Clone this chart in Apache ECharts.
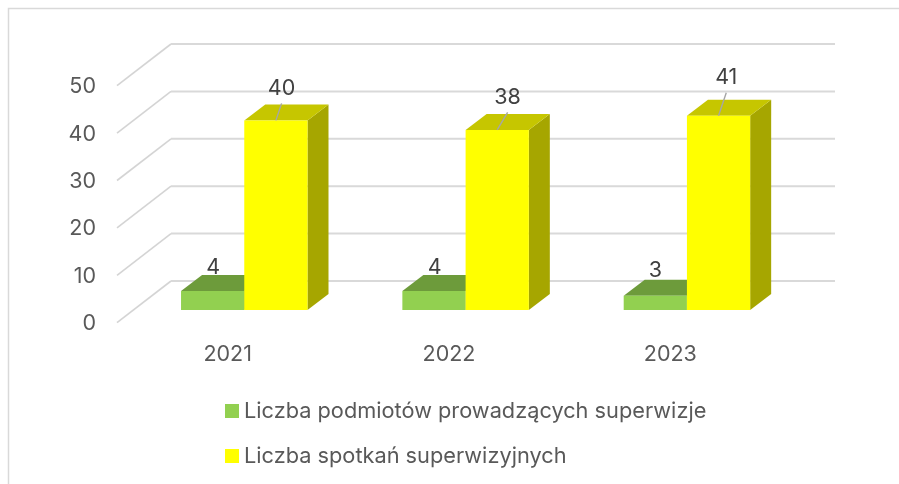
<!DOCTYPE html>
<html>
<head>
<meta charset="utf-8">
<style>
    html, body { margin: 0; background: #fff; }
    #chart { width: 899px; height: 484px; }
</style>
<script src="https://cdn.jsdelivr.net/npm/echarts@6/dist/echarts.min.js"></script>
</head>
<body>
<div id="chart"></div>
<script>
    const years = ['2021', '2022', '2023']
    const yTicks = [0, 10, 20, 30, 40, 50]
    const podmioty = [4, 4, 3]
    const spotkania = [40, 38, 41]
    const podmiotyName = 'Liczba podmiotów prowadzących superwizje'
    const spotkaniaName = 'Liczba spotkań superwizyjnych'

    // the axes are the front edge of the floor, bars stand a bit further in, walls at the back
    const barShift = [16.6, -12.7]
    const barDepth = [21, -16]
    const wallShift = [54, -41.7]
    const barShare = 0.2857
    const labelFont = 'Inter, sans-serif'
    const fontSize = 21.5
    const legendFontSize = 21.75

    // label nudge from the middle of the bar's top front edge
    const greenNudge = [[0.6, -24], [0.6, -24], [0, -25]]
    const yellowNudge = [[5.7, -32], [10.4, -32.5], [7.7, -38]]

    function bar3d(side, colors, nudges, leader) {
        return function (params, api) {
            const i = api.value(0)
            const band = api.size([1, 0])[0]
            const w = band * barShare
            const center = api.coord([i, 0])[0] + barShift[0]
            const x0 = center + (side < 0 ? -w : 0)
            const x1 = x0 + w
            const yBottom = api.coord([i, 0])[1] + barShift[1]
            const yTop = api.coord([i, api.value(1)])[1] + barShift[1]
            const dx = barDepth[0]
            const dy = barDepth[1]
            const nudge = nudges[params.dataIndex]
            const midX = (x0 + x1) / 2
            const children = [
                { type: 'polygon', shape: { points: [[x1, yBottom], [x1 + dx, yBottom + dy], [x1 + dx, yTop + dy], [x1, yTop]] }, style: { fill: colors[2] } },
                { type: 'polygon', shape: { points: [[x0, yTop], [x1, yTop], [x1 + dx, yTop + dy], [x0 + dx, yTop + dy]] }, style: { fill: colors[1] } },
                { type: 'rect', shape: { x: x0, y: yTop, width: w, height: yBottom - yTop }, style: { fill: colors[0] } }
            ]
            if (leader) {
                children.push({
                    type: 'line',
                    shape: { x1: midX, y1: yTop, x2: midX + nudge[0], y2: yTop + nudge[1] + 15 },
                    style: { stroke: '#a6a6a6', lineWidth: 1.4 }
                })
            }
            children.push({
                type: 'text',
                style: {
                    text: String(api.value(1)),
                    x: midX + nudge[0],
                    y: yTop + nudge[1],
                    align: 'center',
                    verticalAlign: 'middle',
                    fill: '#404040',
                    font: fontSize + 'px ' + labelFont
                }
            })
            return { type: 'group', children: children }
        }
    }

    function wallLine(params, api) {
        const rect = params.coordSys
        const y = api.coord([0, api.value(1)])[1]
        return {
            type: 'group',
            children: [
                { type: 'line', shape: { x1: rect.x, y1: y, x2: rect.x + wallShift[0], y2: y + wallShift[1] }, style: { stroke: '#d4d4d4', lineWidth: 1.6 } },
                { type: 'line', shape: { x1: rect.x + wallShift[0], y1: y + wallShift[1], x2: rect.x + rect.width + wallShift[0], y2: y + wallShift[1] }, style: { stroke: '#d9d9d9', lineWidth: 2 } }
            ]
        }
    }

    let option = {
        animation: false,
        backgroundColor: '#fff',
        textStyle: { fontFamily: labelFont },
        graphic: [{
            type: 'polyline',
            silent: true,
            shape: { points: [[8.5, 484], [8.5, 8.5], [899, 8.5]] },
            style: { stroke: '#d9d9d9', fill: null, lineWidth: 1.5 }
        }],
        grid: { left: 117, top: 85.7, width: 664, height: 237, outerBoundsMode: 'none', containLabel: false },
        legend: {
            orient: 'vertical',
            left: 220,
            top: 391,
            itemWidth: 14,
            itemHeight: 14,
            itemGap: 15,
            icon: 'rect',
            selectedMode: false,
            data: [podmiotyName, spotkaniaName],
            textStyle: { color: '#595959', fontSize: legendFontSize, lineHeight: 30, fontFamily: labelFont }
        },
        xAxis: {
            type: 'category',
            data: years,
            axisLine: { show: false },
            axisTick: { show: false },
            axisLabel: { color: '#595959', fontSize: fontSize, margin: 21, fontFamily: labelFont }
        },
        yAxis: {
            type: 'value',
            min: yTicks[0],
            max: yTicks[yTicks.length - 1],
            interval: 10,
            splitLine: { show: false },
            axisLine: { show: false },
            axisTick: { show: false },
            axisLabel: {
                margin: 21,
                formatter: '{tick|{value}}',
                rich: { tick: { color: '#595959', fontSize: fontSize, fontFamily: labelFont, padding: [2, 0, 0, 0] } }
            }
        },
        series: [
            {
                type: 'custom',
                silent: true,
                z: 1,
                renderItem: wallLine,
                encode: { x: 0, y: 1 },
                data: yTicks.map(_ => [0, _])
            },
            {
                name: podmiotyName,
                type: 'custom',
                z: 2,
                itemStyle: { color: '#92d050' },
                renderItem: bar3d(-1, ['#92d050', '#6d9b3b', '#6d9b3b'], greenNudge, false),
                encode: { x: 0, y: 1 },
                data: podmioty.map((_, i) => [i, _])
            },
            {
                name: spotkaniaName,
                type: 'custom',
                z: 3,
                itemStyle: { color: '#ffff00' },
                renderItem: bar3d(1, ['#ffff00', '#c6c600', '#a6a600'], yellowNudge, true),
                encode: { x: 0, y: 1 },
                data: spotkania.map((_, i) => [i, _])
            }
        ]
    }

    let dom = echarts.init(document.getElementById('chart'))
    dom.setOption(option)
</script>
</body>
</html>
